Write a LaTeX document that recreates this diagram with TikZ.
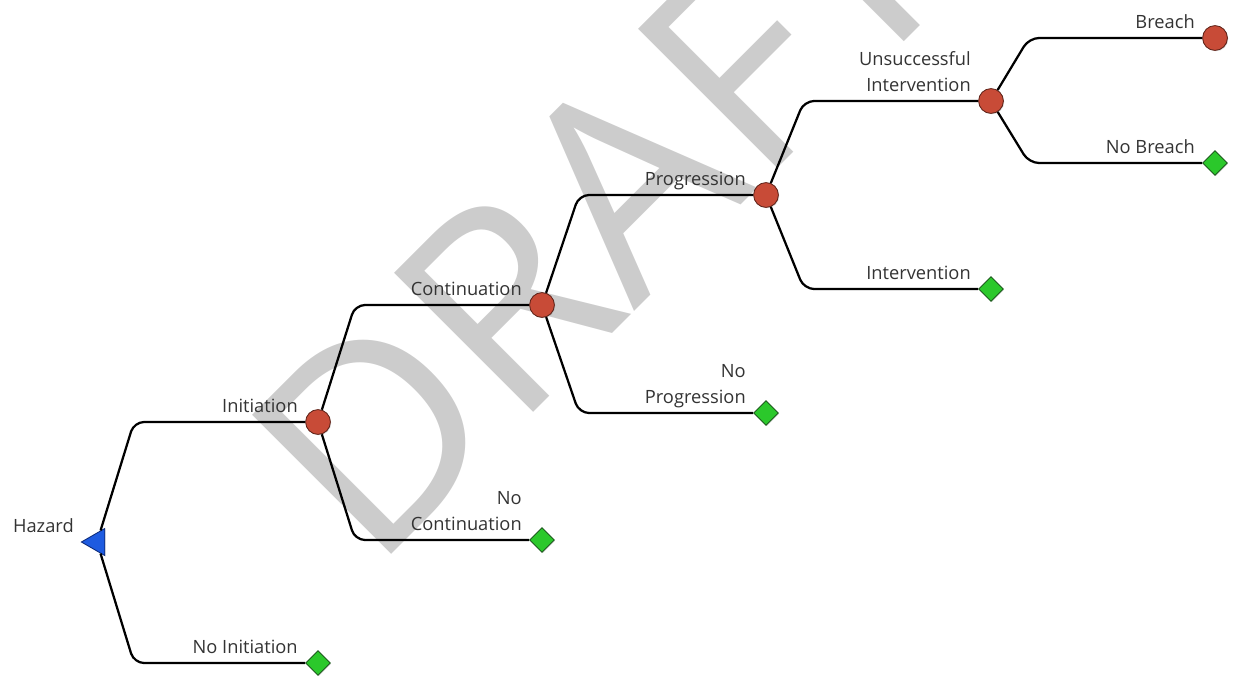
\documentclass[tikz,border=0pt]{standalone}
\usepackage{fontspec}
\setmainfont{Open Sans}
\usetikzlibrary{calc,shapes.geometric,shadows}
\definecolor{pivotred}{HTML}{C84B37}
\definecolor{pivotedge}{HTML}{5E2218}
\definecolor{endgreen}{HTML}{2BC82B}
\definecolor{endedge}{HTML}{1B5A1B}
\definecolor{hazblue}{HTML}{1E5BE0}
\definecolor{hazedge}{HTML}{0C2A7A}
\definecolor{lbltext}{HTML}{333333}
\tikzset{
	branch/.style={line width=1.6pt, rounded corners=0.25cm},
	pivot/.style={circle, draw=pivotedge, fill=pivotred, line width=0.6pt, minimum size=0.62cm, inner sep=0pt,
		drop shadow={opacity=0.3, shadow xshift=0.6pt, shadow yshift=-0.6pt}},
	outcome/.style={diamond, draw=endedge, fill=endgreen, line width=0.6pt, minimum size=0.62cm, inner sep=0pt,
		drop shadow={opacity=0.3, shadow xshift=0.6pt, shadow yshift=-0.6pt}},
	hazard/.style={regular polygon, regular polygon sides=3, shape border rotate=90, draw=hazedge, fill=hazblue,
		line width=0.6pt, minimum size=0.78cm, inner sep=0pt,
		drop shadow={opacity=0.3, shadow xshift=0.6pt, shadow yshift=-0.6pt}},
	lbl/.style={anchor=south east, inner sep=0pt, text depth=0pt, align=right, text=lbltext,
		font=\fontsize{13}{19}\selectfont}
}
\begin{document}
\begin{tikzpicture}[x=0.025cm, y=-0.025cm]
			%%%%% START %%%%%
			\useasboundingbox (0,0) rectangle (1233,677);
			
			% watermark
			\node[rotate=45, anchor=base west, inner sep=0pt, text=black!20,
				font=\fontsize{196}{196}\selectfont] (draft) at (372,574) {DRAFT};
			
			% events
			\node[hazard] (haz) at (97,542) {};
			\node[pivot] (init) at (318,422) {};
			\node[outcome] (noinit) at (318,663) {};
			\node[pivot] (cont) at (542,305) {};
			\node[outcome] (nocont) at (542,540) {};
			\node[pivot] (prog) at (766,195) {};
			\node[outcome] (noprog) at (766,413) {};
			\node[pivot] (unsucc) at (991,101) {};
			\node[outcome] (interv) at (991,289) {};
			\node[pivot] (breach) at (1215,38) {};
			\node[outcome] (nobreach) at (1215,163) {};
			
			% branches
			\draw[branch] (haz) -- ($(haz |- init)+(37,0)$) -- (init);
			\draw[branch] (haz) -- ($(haz |- noinit)+(37,0)$) -- (noinit);
			\draw[branch] (init) -- ($(init |- cont)+(37,0)$) -- (cont);
			\draw[branch] (init) -- ($(init |- nocont)+(37,0)$) -- (nocont);
			\draw[branch] (cont) -- ($(cont |- prog)+(37,0)$) -- (prog);
			\draw[branch] (cont) -- ($(cont |- noprog)+(37,0)$) -- (noprog);
			\draw[branch] (prog) -- ($(prog |- unsucc)+(38,0)$) -- (unsucc);
			\draw[branch] (prog) -- ($(prog |- interv)+(38,0)$) -- (interv);
			\draw[branch] (unsucc) -- ($(unsucc |- breach)+(38,0)$) -- (breach);
			\draw[branch] (unsucc) -- ($(unsucc |- nobreach)+(38,0)$) -- (nobreach);
			
			% labels
			\node[lbl] (lhaz) at ($(haz)+(-23,-9)$) {Hazard};
			\node[lbl] (linit) at ($(init)+(-20,-9)$) {Initiation};
			\node[lbl] (lnoinit) at ($(noinit)+(-20,-9)$) {No Initiation};
			\node[lbl] (lcont) at ($(cont)+(-20,-9)$) {Continuation};
			\node[lbl] (lnocont) at ($(nocont)+(-20,-9)$) {No\\Continuation};
			\node[lbl] (lprog) at ($(prog)+(-20,-9)$) {Progression};
			\node[lbl] (lnoprog) at ($(noprog)+(-20,-9)$) {No\\Progression};
			\node[lbl] (lunsucc) at ($(unsucc)+(-20,-9)$) {Unsuccessful\\Intervention};
			\node[lbl] (linterv) at ($(interv)+(-20,-9)$) {Intervention};
			\node[lbl] (lbreach) at ($(breach)+(-20,-9)$) {Breach};
			\node[lbl] (lnobreach) at ($(nobreach)+(-20,-9)$) {No Breach};
			
			%%%%% END %%%%%
\end{tikzpicture}
\end{document}
